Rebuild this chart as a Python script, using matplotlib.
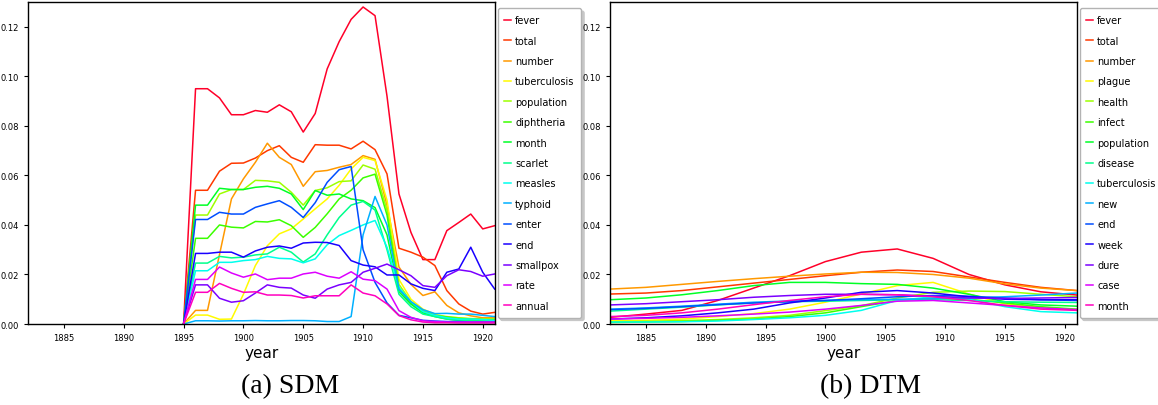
import numpy as np
import matplotlib
matplotlib.use("Agg")
from matplotlib import pyplot as plt

# ---- SDM (left) : yearly values 1895..1921
sdm_years = list(range(1895, 1922))
sdm_words = ["fever", "total", "number", "tuberculosis", "population", "diphtheria",
             "month", "scarlet", "measles", "typhoid", "enter", "end", "smallpox",
             "rate", "annual"]

fever = [0, .095, .095, .0913, .0845, .0845, .0862, .0855, .0885, .0857, .0775, .0850, .103, .114,
         .123, .128, .1245, .092, .0525, .037, .026, .026, .0377, .041, .0444, .0384, .0397]
total = [0, .054, .054, .0617, .0649, .065, .067, .070, .072, .0673, .0653, .0724, .0722, .0722,
         .0707, .0738, .0704, .0606, .0306, .029, .027, .0236, .0135, .0081, .0052, .004, .0047]
number = [0, .0055, .0055, .028, .0505, .0586, .0653, .073, .0673, .0644, .0556, .0615, .062, .0633,
          .0644, .068, .0665, .048, .023, .016, .0115, .013, .0075, .0045, .0033, .0025, .0025]
tuberculosis = [0, .0036, .0036, .0019, .002, .012, .0236, .0316, .0364, .0384, .0424, .0465, .0505, .056,
                .0626, .0673, .066, .050, .018, .010, .006, .004, .0028, .0025, .002, .002, .0018]
population = [0, .044, .044, .0525, .0543, .0543, .058, .0578, .0572, .0532, .048, .0539, .055, .0575,
              .0578, .0642, .0625, .046, .016, .009, .0055, .0035, .003, .0025, .0022, .002, .002]
diphtheria = [0, .0346, .0346, .040, .0391, .0388, .0414, .0412, .0421, .0397, .035, .039, .0445, .0505,
              .054, .059, .0605, .044, .014, .0085, .005, .0035, .0028, .0022, .002, .0018, .0018]
month = [0, .048, .048, .0548, .0543, .0543, .0552, .0556, .0548, .0525, .0462, .0539, .052, .0525,
         .0505, .0498, .047, .036, .013, .008, .0045, .003, .002, .0015, .0015, .0012, .0012]
scarlet = [0, .0246, .0246, .0273, .0267, .027, .0279, .0283, .031, .029, .025, .0283, .036, .043,
           .048, .0495, .046, .030, .012, .007, .004, .003, .002, .0015, .0013, .0012, .001]
measles = [0, .0215, .0215, .0249, .0249, .0256, .026, .0273, .0265, .0263, .0247, .0263, .032, .0357,
           .0378, .040, .0418, .031, .0148, .009, .005, .0035, .0025, .002, .002, .0018, .0015]
typhoid = [0, .0013, .0013, .0012, .0013, .0013, .0014, .0013, .0013, .0014, .0014, .0013, .001, .001,
           .003, .036, .0515, .040, .014, .009, .0058, .0042, .0043, .004, .004, .0035, .003]
enter = [0, .0422, .0422, .0451, .0444, .0444, .0471, .0485, .0498, .0471, .043, .049, .0572, .0623,
         .0636, .030, .0168, .0085, .0035, .0025, .0015, .0012, .001, .001, .0008, .0008, .0008]
end = [0, .0285, .0285, .029, .029, .027, .0295, .031, .0315, .0306, .0327, .033, .0329, .0317,
       .0256, .0238, .0231, .0198, .0198, .0162, .0144, .0135, .0209, .0222, .031, .0209, .0141]
smallpox = [0, .0158, .0158, .0104, .0088, .0094, .0125, .0158, .0148, .0145, .0117, .0104, .0141, .0158,
            .0168, .0209, .0225, .0242, .0219, .0195, .0155, .0148, .0195, .0219, .0212, .0193, .0202]
rate = [0, .018, .018, .023, .0206, .0189, .0202, .0179, .0185, .0185, .0202, .0209, .0193, .0185,
        .0211, .0181, .0175, .0141, .0054, .0027, .0013, .001, .0008, .0008, .0008, .0008, .0008]
annual = [0, .0128, .0128, .0164, .0144, .0128, .013, .0117, .0117, .0115, .0105, .0114, .0114, .0114,
          .0158, .0125, .0114, .0081, .0034, .0017, .0008, .0005, .0005, .0004, .0004, .0004, .0004]
sdm_values = [fever, total, number, tuberculosis, population, diphtheria, month, scarlet,
              measles, typhoid, enter, end, smallpox, rate, annual]

# ---- DTM (right) : values read every 3 years
dtm_years = [1882, 1885, 1888, 1891, 1894, 1897, 1900, 1903, 1906, 1909, 1912, 1915, 1918, 1921]
dtm_words = ["fever", "total", "number", "plague", "health", "infect", "population", "disease",
             "tuberculosis", "new", "end", "week", "dure", "case", "month"]

d_fever = [.0027, .004, .0055, .0095, .0145, .0195, .0252, .029, .0303, .0265, .020, .0158, .013, .0117]
d_total = [.0121, .0125, .0135, .015, .0165, .018, .0195, .0209, .0218, .0212, .019, .0168, .0148, .0135]
d_number = [.0141, .0148, .016, .0172, .0183, .0193, .0202, .0209, .0208, .0200, .0185, .0162, .0145, .0135]
d_plague = [.0013, .0015, .002, .003, .0042, .006, .0088, .0121, .0155, .0168, .0121, .0081, .0066, .0058]
d_health = [.0009, .0011, .0014, .0018, .0025, .0035, .0054, .0074, .0105, .0128, .0133, .0131, .012, .011]
d_infect = [.0006, .0008, .001, .0015, .002, .003, .0045, .007, .0095, .0105, .01, .0085, .007, .006]
d_population = [.0098, .0105, .0118, .0135, .0155, .0168, .0168, .0163, .016, .0145, .012, .009, .0077, .0072]
d_disease = [.0052, .006, .0068, .0077, .0085, .009, .0092, .0095, .0098, .0098, .0095, .009, .0088, .0087]
d_tuberculosis = [.0008, .0008, .0009, .0012, .0018, .0025, .0035, .0055, .0095, .011, .01, .007, .005, .0045]
d_new = [.006, .0065, .0072, .008, .0088, .0093, .0095, .0098, .01, .0102, .0105, .011, .0117, .0125]
d_end = [.0058, .0063, .007, .0078, .0085, .009, .0095, .0102, .011, .0115, .0112, .0105, .0098, .0095]
d_week = [.002, .0025, .0033, .0045, .006, .0085, .0105, .0128, .0135, .0125, .011, .01, .0098, .0098]
d_dure = [.0077, .0082, .009, .0098, .0108, .0115, .012, .012, .0118, .0112, .0105, .0103, .0105, .0107]
d_case = [.002, .0023, .0027, .0033, .004, .0048, .006, .0075, .0092, .0095, .0085, .0075, .0065, .0058]
d_month = [.003, .0035, .0045, .006, .0078, .0095, .011, .012, .0118, .011, .0095, .0075, .006, .0055]
dtm_values = [d_fever, d_total, d_number, d_plague, d_health, d_infect, d_population, d_disease,
              d_tuberculosis, d_new, d_end, d_week, d_dure, d_case, d_month]

colors = plt.cm.gist_rainbow(np.linspace(0, 1, 15))

fig = plt.figure(figsize=(11.58, 4.06), dpi=100)
ax1 = fig.add_axes([0.0242, 0.1995, 0.403, 0.793])
ax2 = fig.add_axes([0.5268, 0.1995, 0.403, 0.793])


def draw(ax, years, values, words):
    for vals, word, c in zip(values, words, colors):
        ax.plot(years, vals, color=c, lw=1.1, label=word)
    ax.set_xlim(1882, 1921)
    ax.set_ylim(0, 0.13)
    ax.set_xticks(range(1885, 1921, 5))
    ax.set_yticks(np.arange(0, 0.121, 0.02))
    ax.yaxis.set_major_formatter(matplotlib.ticker.FormatStrFormatter("%.2f"))
    ax.tick_params(labelsize=6, length=3, width=0.8)
    ax.set_xlabel("year", fontsize=11, labelpad=2)
    for s in ax.spines.values():
        s.set_linewidth(1.0)
    ax.legend(loc="center left", bbox_to_anchor=(1.0, 0.5), fontsize=7.0,
              handlelength=0.7, handletextpad=0.4, labelspacing=1.07,
              borderaxespad=0.3, borderpad=0.7, fancybox=True,
              shadow={"color": "0.78", "alpha": 1, "ox": 2, "oy": -2}, framealpha=1,
              edgecolor="0.7")


draw(ax1, sdm_years, sdm_values, sdm_words)
draw(ax2, dtm_years, dtm_values, dtm_words)

fig.text(290 / 1158, 1 - 387 / 406, "(a) SDM", family="Liberation Serif", fontsize=20,
         ha="center", va="center")
fig.text(870 / 1158, 1 - 387 / 406, "(b) DTM", family="Liberation Serif", fontsize=20,
         ha="center", va="center")

fig.savefig("out.png", dpi=100)
